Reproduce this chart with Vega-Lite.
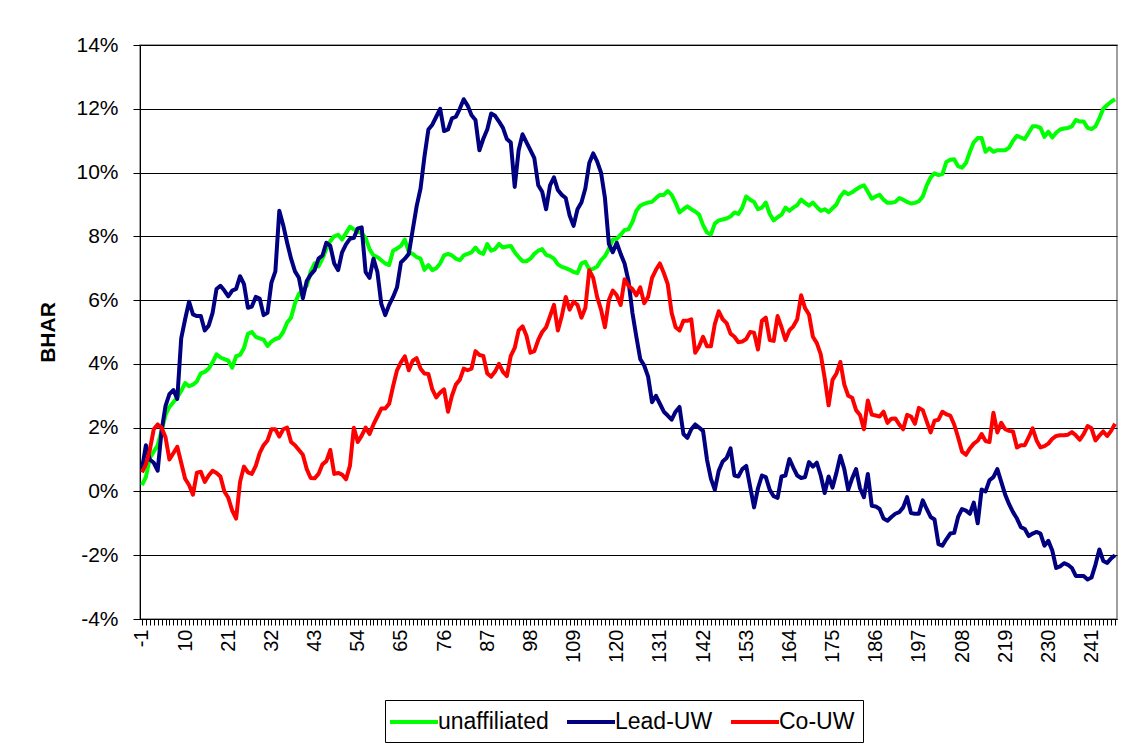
{
"$schema": "https://vega.github.io/schema/vega-lite/v6.json",
"width": 977, "height": 574,
"autosize": "none",
"padding": {"left": 140, "top": 45, "right": 8, "bottom": 130},
"background": "white",
"config": {"font": "Liberation Sans", "view": {"stroke": "#808080", "strokeWidth": 1.5}},
"data": {"values": [
{"d":-1,"unaffiliated":0.2,"Lead-UW":0.7,"Co-UW":0.6},
{"d":0,"unaffiliated":0.45,"Lead-UW":1.45,"Co-UW":0.85},
{"d":1,"unaffiliated":1.05,"Lead-UW":1.0,"Co-UW":1.3},
{"d":2,"unaffiliated":1.25,"Lead-UW":0.9,"Co-UW":1.95},
{"d":3,"unaffiliated":1.45,"Lead-UW":0.65,"Co-UW":2.1},
{"d":4,"unaffiliated":1.9,"Lead-UW":1.9,"Co-UW":2.0},
{"d":5,"unaffiliated":2.4,"Lead-UW":2.68,"Co-UW":1.7},
{"d":6,"unaffiliated":2.65,"Lead-UW":3.05,"Co-UW":1.0},
{"d":7,"unaffiliated":2.8,"Lead-UW":3.18,"Co-UW":1.2},
{"d":8,"unaffiliated":2.95,"Lead-UW":2.9,"Co-UW":1.4},
{"d":9,"unaffiliated":3.15,"Lead-UW":4.8,"Co-UW":0.9},
{"d":10,"unaffiliated":3.4,"Lead-UW":5.4,"Co-UW":0.4},
{"d":11,"unaffiliated":3.3,"Lead-UW":5.95,"Co-UW":0.2},
{"d":12,"unaffiliated":3.35,"Lead-UW":5.55,"Co-UW":-0.1},
{"d":13,"unaffiliated":3.45,"Lead-UW":5.5,"Co-UW":0.59},
{"d":14,"unaffiliated":3.7,"Lead-UW":5.5,"Co-UW":0.62},
{"d":15,"unaffiliated":3.75,"Lead-UW":5.05,"Co-UW":0.3},
{"d":16,"unaffiliated":3.85,"Lead-UW":5.2,"Co-UW":0.5},
{"d":17,"unaffiliated":4.05,"Lead-UW":5.6,"Co-UW":0.65},
{"d":18,"unaffiliated":4.3,"Lead-UW":6.35,"Co-UW":0.58},
{"d":19,"unaffiliated":4.2,"Lead-UW":6.45,"Co-UW":0.47},
{"d":20,"unaffiliated":4.15,"Lead-UW":6.3,"Co-UW":0.0},
{"d":21,"unaffiliated":4.1,"Lead-UW":6.12,"Co-UW":-0.2},
{"d":22,"unaffiliated":3.88,"Lead-UW":6.3,"Co-UW":-0.6},
{"d":23,"unaffiliated":4.24,"Lead-UW":6.35,"Co-UW":-0.85},
{"d":24,"unaffiliated":4.28,"Lead-UW":6.75,"Co-UW":0.3},
{"d":25,"unaffiliated":4.5,"Lead-UW":6.5,"Co-UW":0.78},
{"d":26,"unaffiliated":4.94,"Lead-UW":5.76,"Co-UW":0.6},
{"d":27,"unaffiliated":5.0,"Lead-UW":5.8,"Co-UW":0.55},
{"d":28,"unaffiliated":4.85,"Lead-UW":6.1,"Co-UW":0.8},
{"d":29,"unaffiliated":4.8,"Lead-UW":6.05,"Co-UW":1.2},
{"d":30,"unaffiliated":4.76,"Lead-UW":5.53,"Co-UW":1.45},
{"d":31,"unaffiliated":4.56,"Lead-UW":5.6,"Co-UW":1.6},
{"d":32,"unaffiliated":4.7,"Lead-UW":6.55,"Co-UW":1.95},
{"d":33,"unaffiliated":4.78,"Lead-UW":6.9,"Co-UW":1.95},
{"d":34,"unaffiliated":4.82,"Lead-UW":8.8,"Co-UW":1.72},
{"d":35,"unaffiliated":5.0,"Lead-UW":8.35,"Co-UW":1.95},
{"d":36,"unaffiliated":5.3,"Lead-UW":7.8,"Co-UW":2.0},
{"d":37,"unaffiliated":5.45,"Lead-UW":7.3,"Co-UW":1.55},
{"d":38,"unaffiliated":5.9,"Lead-UW":6.9,"Co-UW":1.45},
{"d":39,"unaffiliated":6.2,"Lead-UW":6.7,"Co-UW":1.3},
{"d":40,"unaffiliated":6.3,"Lead-UW":6.06,"Co-UW":1.15},
{"d":41,"unaffiliated":6.45,"Lead-UW":6.6,"Co-UW":0.7},
{"d":42,"unaffiliated":6.9,"Lead-UW":6.8,"Co-UW":0.42},
{"d":43,"unaffiliated":7.15,"Lead-UW":6.94,"Co-UW":0.41},
{"d":44,"unaffiliated":7.06,"Lead-UW":7.3,"Co-UW":0.55},
{"d":45,"unaffiliated":7.3,"Lead-UW":7.4,"Co-UW":0.85},
{"d":46,"unaffiliated":7.6,"Lead-UW":7.8,"Co-UW":0.95},
{"d":47,"unaffiliated":7.85,"Lead-UW":7.7,"Co-UW":1.3},
{"d":48,"unaffiliated":8.0,"Lead-UW":7.15,"Co-UW":0.55},
{"d":49,"unaffiliated":8.05,"Lead-UW":6.94,"Co-UW":0.58},
{"d":50,"unaffiliated":7.9,"Lead-UW":7.5,"Co-UW":0.53},
{"d":51,"unaffiliated":8.1,"Lead-UW":7.75,"Co-UW":0.38},
{"d":52,"unaffiliated":8.3,"Lead-UW":7.92,"Co-UW":0.8},
{"d":53,"unaffiliated":8.22,"Lead-UW":7.95,"Co-UW":2.0},
{"d":54,"unaffiliated":8.15,"Lead-UW":8.25,"Co-UW":1.55},
{"d":55,"unaffiliated":8.1,"Lead-UW":8.28,"Co-UW":1.75},
{"d":56,"unaffiliated":7.95,"Lead-UW":6.88,"Co-UW":2.0},
{"d":57,"unaffiliated":7.6,"Lead-UW":6.7,"Co-UW":1.8},
{"d":58,"unaffiliated":7.4,"Lead-UW":7.3,"Co-UW":2.1},
{"d":59,"unaffiliated":7.35,"Lead-UW":6.88,"Co-UW":2.35},
{"d":60,"unaffiliated":7.25,"Lead-UW":5.88,"Co-UW":2.6},
{"d":61,"unaffiliated":7.15,"Lead-UW":5.53,"Co-UW":2.6},
{"d":62,"unaffiliated":7.1,"Lead-UW":5.85,"Co-UW":2.75},
{"d":63,"unaffiliated":7.55,"Lead-UW":6.1,"Co-UW":3.3},
{"d":64,"unaffiliated":7.62,"Lead-UW":6.4,"Co-UW":3.8},
{"d":65,"unaffiliated":7.7,"Lead-UW":7.18,"Co-UW":4.05},
{"d":66,"unaffiliated":7.9,"Lead-UW":7.3,"Co-UW":4.24},
{"d":67,"unaffiliated":7.5,"Lead-UW":7.45,"Co-UW":3.8},
{"d":68,"unaffiliated":7.45,"Lead-UW":8.2,"Co-UW":4.1},
{"d":69,"unaffiliated":7.35,"Lead-UW":8.94,"Co-UW":4.18},
{"d":70,"unaffiliated":7.3,"Lead-UW":9.5,"Co-UW":3.85},
{"d":71,"unaffiliated":6.95,"Lead-UW":10.5,"Co-UW":3.7},
{"d":72,"unaffiliated":7.1,"Lead-UW":11.35,"Co-UW":3.68},
{"d":73,"unaffiliated":6.94,"Lead-UW":11.5,"Co-UW":3.2},
{"d":74,"unaffiliated":7.0,"Lead-UW":11.75,"Co-UW":2.95},
{"d":75,"unaffiliated":7.15,"Lead-UW":12.0,"Co-UW":3.1},
{"d":76,"unaffiliated":7.4,"Lead-UW":11.3,"Co-UW":3.2},
{"d":77,"unaffiliated":7.45,"Lead-UW":11.35,"Co-UW":2.5},
{"d":78,"unaffiliated":7.4,"Lead-UW":11.7,"Co-UW":3.0},
{"d":79,"unaffiliated":7.3,"Lead-UW":11.75,"Co-UW":3.35},
{"d":80,"unaffiliated":7.25,"Lead-UW":12.0,"Co-UW":3.5},
{"d":81,"unaffiliated":7.4,"Lead-UW":12.3,"Co-UW":3.85},
{"d":82,"unaffiliated":7.45,"Lead-UW":12.1,"Co-UW":3.8},
{"d":83,"unaffiliated":7.5,"Lead-UW":11.8,"Co-UW":3.85},
{"d":84,"unaffiliated":7.65,"Lead-UW":11.65,"Co-UW":4.4},
{"d":85,"unaffiliated":7.5,"Lead-UW":10.7,"Co-UW":4.28},
{"d":86,"unaffiliated":7.45,"Lead-UW":11.06,"Co-UW":4.25},
{"d":87,"unaffiliated":7.76,"Lead-UW":11.35,"Co-UW":3.7},
{"d":88,"unaffiliated":7.55,"Lead-UW":11.85,"Co-UW":3.6},
{"d":89,"unaffiliated":7.6,"Lead-UW":11.78,"Co-UW":3.76},
{"d":90,"unaffiliated":7.76,"Lead-UW":11.6,"Co-UW":4.0},
{"d":91,"unaffiliated":7.65,"Lead-UW":11.4,"Co-UW":3.75},
{"d":92,"unaffiliated":7.68,"Lead-UW":11.05,"Co-UW":3.62},
{"d":93,"unaffiliated":7.7,"Lead-UW":10.94,"Co-UW":4.25},
{"d":94,"unaffiliated":7.5,"Lead-UW":9.55,"Co-UW":4.5},
{"d":95,"unaffiliated":7.35,"Lead-UW":10.7,"Co-UW":5.05},
{"d":96,"unaffiliated":7.22,"Lead-UW":11.2,"Co-UW":5.18},
{"d":97,"unaffiliated":7.22,"Lead-UW":10.95,"Co-UW":4.88},
{"d":98,"unaffiliated":7.3,"Lead-UW":10.7,"Co-UW":4.35},
{"d":99,"unaffiliated":7.45,"Lead-UW":10.45,"Co-UW":4.4},
{"d":100,"unaffiliated":7.55,"Lead-UW":9.6,"Co-UW":4.75},
{"d":101,"unaffiliated":7.6,"Lead-UW":9.4,"Co-UW":5.0},
{"d":102,"unaffiliated":7.42,"Lead-UW":8.85,"Co-UW":5.15},
{"d":103,"unaffiliated":7.38,"Lead-UW":9.6,"Co-UW":5.5},
{"d":104,"unaffiliated":7.3,"Lead-UW":9.85,"Co-UW":5.85},
{"d":105,"unaffiliated":7.12,"Lead-UW":9.45,"Co-UW":5.05},
{"d":106,"unaffiliated":7.04,"Lead-UW":9.3,"Co-UW":5.5},
{"d":107,"unaffiliated":7.0,"Lead-UW":9.2,"Co-UW":6.1},
{"d":108,"unaffiliated":6.95,"Lead-UW":8.65,"Co-UW":5.7},
{"d":109,"unaffiliated":6.88,"Lead-UW":8.33,"Co-UW":5.95},
{"d":110,"unaffiliated":6.85,"Lead-UW":8.85,"Co-UW":5.85},
{"d":111,"unaffiliated":7.15,"Lead-UW":9.06,"Co-UW":5.45},
{"d":112,"unaffiliated":7.2,"Lead-UW":9.5,"Co-UW":5.75},
{"d":113,"unaffiliated":6.96,"Lead-UW":10.3,"Co-UW":6.94},
{"d":114,"unaffiliated":6.98,"Lead-UW":10.6,"Co-UW":6.7},
{"d":115,"unaffiliated":7.05,"Lead-UW":10.35,"Co-UW":6.1},
{"d":116,"unaffiliated":7.25,"Lead-UW":10.0,"Co-UW":5.7},
{"d":117,"unaffiliated":7.38,"Lead-UW":9.2,"Co-UW":5.15},
{"d":118,"unaffiliated":7.6,"Lead-UW":7.76,"Co-UW":6.0},
{"d":119,"unaffiliated":7.9,"Lead-UW":7.5,"Co-UW":6.3},
{"d":120,"unaffiliated":7.92,"Lead-UW":7.8,"Co-UW":6.15},
{"d":121,"unaffiliated":8.05,"Lead-UW":7.45,"Co-UW":5.85},
{"d":122,"unaffiliated":8.2,"Lead-UW":7.15,"Co-UW":6.65},
{"d":123,"unaffiliated":8.22,"Lead-UW":6.6,"Co-UW":6.45},
{"d":124,"unaffiliated":8.45,"Lead-UW":5.6,"Co-UW":6.35},
{"d":125,"unaffiliated":8.8,"Lead-UW":4.85,"Co-UW":6.15},
{"d":126,"unaffiliated":8.96,"Lead-UW":4.15,"Co-UW":6.4},
{"d":127,"unaffiliated":9.02,"Lead-UW":3.95,"Co-UW":5.9},
{"d":128,"unaffiliated":9.06,"Lead-UW":3.6,"Co-UW":6.1},
{"d":129,"unaffiliated":9.08,"Lead-UW":2.8,"Co-UW":6.7},
{"d":130,"unaffiliated":9.2,"Lead-UW":3.0,"Co-UW":6.95},
{"d":131,"unaffiliated":9.3,"Lead-UW":2.75,"Co-UW":7.15},
{"d":132,"unaffiliated":9.3,"Lead-UW":2.5,"Co-UW":6.85},
{"d":133,"unaffiliated":9.42,"Lead-UW":2.38,"Co-UW":6.5},
{"d":134,"unaffiliated":9.3,"Lead-UW":2.25,"Co-UW":5.6},
{"d":135,"unaffiliated":9.05,"Lead-UW":2.5,"Co-UW":5.15},
{"d":136,"unaffiliated":8.75,"Lead-UW":2.65,"Co-UW":5.05},
{"d":137,"unaffiliated":8.85,"Lead-UW":1.8,"Co-UW":5.35},
{"d":138,"unaffiliated":8.94,"Lead-UW":1.68,"Co-UW":5.35},
{"d":139,"unaffiliated":8.85,"Lead-UW":1.95,"Co-UW":5.4},
{"d":140,"unaffiliated":8.78,"Lead-UW":2.1,"Co-UW":4.35},
{"d":141,"unaffiliated":8.68,"Lead-UW":2.0,"Co-UW":4.55},
{"d":142,"unaffiliated":8.35,"Lead-UW":1.9,"Co-UW":4.85},
{"d":143,"unaffiliated":8.12,"Lead-UW":1.0,"Co-UW":4.55},
{"d":144,"unaffiliated":8.06,"Lead-UW":0.4,"Co-UW":4.55},
{"d":145,"unaffiliated":8.4,"Lead-UW":0.05,"Co-UW":5.25},
{"d":146,"unaffiliated":8.5,"Lead-UW":0.65,"Co-UW":5.65},
{"d":147,"unaffiliated":8.53,"Lead-UW":0.94,"Co-UW":5.4},
{"d":148,"unaffiliated":8.56,"Lead-UW":1.05,"Co-UW":5.28},
{"d":149,"unaffiliated":8.62,"Lead-UW":1.35,"Co-UW":4.95},
{"d":150,"unaffiliated":8.75,"Lead-UW":0.5,"Co-UW":4.85},
{"d":151,"unaffiliated":8.7,"Lead-UW":0.47,"Co-UW":4.68},
{"d":152,"unaffiliated":8.9,"Lead-UW":0.7,"Co-UW":4.7},
{"d":153,"unaffiliated":9.25,"Lead-UW":0.8,"Co-UW":4.78},
{"d":154,"unaffiliated":9.15,"Lead-UW":0.15,"Co-UW":5.0},
{"d":155,"unaffiliated":9.08,"Lead-UW":-0.5,"Co-UW":4.98},
{"d":156,"unaffiliated":8.85,"Lead-UW":0.1,"Co-UW":4.45},
{"d":157,"unaffiliated":8.9,"Lead-UW":0.5,"Co-UW":5.35},
{"d":158,"unaffiliated":9.06,"Lead-UW":0.45,"Co-UW":5.45},
{"d":159,"unaffiliated":8.7,"Lead-UW":0.05,"Co-UW":4.75},
{"d":160,"unaffiliated":8.5,"Lead-UW":-0.15,"Co-UW":4.72},
{"d":161,"unaffiliated":8.6,"Lead-UW":-0.2,"Co-UW":5.5},
{"d":162,"unaffiliated":8.68,"Lead-UW":0.47,"Co-UW":5.15},
{"d":163,"unaffiliated":8.9,"Lead-UW":0.5,"Co-UW":4.75},
{"d":164,"unaffiliated":8.8,"Lead-UW":1.02,"Co-UW":5.05},
{"d":165,"unaffiliated":8.9,"Lead-UW":0.75,"Co-UW":5.18},
{"d":166,"unaffiliated":8.98,"Lead-UW":0.5,"Co-UW":5.4},
{"d":167,"unaffiliated":9.15,"Lead-UW":0.42,"Co-UW":6.15},
{"d":168,"unaffiliated":9.05,"Lead-UW":0.45,"Co-UW":5.75},
{"d":169,"unaffiliated":8.96,"Lead-UW":0.92,"Co-UW":5.55},
{"d":170,"unaffiliated":9.06,"Lead-UW":0.78,"Co-UW":4.85},
{"d":171,"unaffiliated":8.92,"Lead-UW":0.9,"Co-UW":4.65},
{"d":172,"unaffiliated":8.8,"Lead-UW":0.5,"Co-UW":4.3},
{"d":173,"unaffiliated":8.85,"Lead-UW":-0.05,"Co-UW":3.55},
{"d":174,"unaffiliated":8.76,"Lead-UW":0.47,"Co-UW":2.7},
{"d":175,"unaffiliated":8.88,"Lead-UW":0.12,"Co-UW":3.5},
{"d":176,"unaffiliated":9.0,"Lead-UW":0.59,"Co-UW":3.7},
{"d":177,"unaffiliated":9.25,"Lead-UW":1.12,"Co-UW":4.06},
{"d":178,"unaffiliated":9.4,"Lead-UW":0.7,"Co-UW":3.35},
{"d":179,"unaffiliated":9.32,"Lead-UW":0.05,"Co-UW":3.0},
{"d":180,"unaffiliated":9.38,"Lead-UW":0.41,"Co-UW":2.94},
{"d":181,"unaffiliated":9.47,"Lead-UW":0.7,"Co-UW":2.55},
{"d":182,"unaffiliated":9.55,"Lead-UW":0.1,"Co-UW":2.4},
{"d":183,"unaffiliated":9.6,"Lead-UW":-0.18,"Co-UW":1.95},
{"d":184,"unaffiliated":9.4,"Lead-UW":0.55,"Co-UW":2.85},
{"d":185,"unaffiliated":9.18,"Lead-UW":-0.45,"Co-UW":2.41},
{"d":186,"unaffiliated":9.25,"Lead-UW":-0.47,"Co-UW":2.38},
{"d":187,"unaffiliated":9.3,"Lead-UW":-0.55,"Co-UW":2.35},
{"d":188,"unaffiliated":9.15,"Lead-UW":-0.85,"Co-UW":2.5},
{"d":189,"unaffiliated":9.05,"Lead-UW":-0.92,"Co-UW":2.15},
{"d":190,"unaffiliated":9.05,"Lead-UW":-0.8,"Co-UW":2.28},
{"d":191,"unaffiliated":9.08,"Lead-UW":-0.7,"Co-UW":2.29},
{"d":192,"unaffiliated":9.2,"Lead-UW":-0.65,"Co-UW":2.1},
{"d":193,"unaffiliated":9.15,"Lead-UW":-0.5,"Co-UW":1.95},
{"d":194,"unaffiliated":9.08,"Lead-UW":-0.18,"Co-UW":2.4},
{"d":195,"unaffiliated":9.03,"Lead-UW":-0.68,"Co-UW":2.35},
{"d":196,"unaffiliated":9.05,"Lead-UW":-0.7,"Co-UW":2.12},
{"d":197,"unaffiliated":9.1,"Lead-UW":-0.7,"Co-UW":2.62},
{"d":198,"unaffiliated":9.25,"Lead-UW":-0.28,"Co-UW":2.55},
{"d":199,"unaffiliated":9.6,"Lead-UW":-0.55,"Co-UW":2.2},
{"d":200,"unaffiliated":9.85,"Lead-UW":-0.8,"Co-UW":1.85},
{"d":201,"unaffiliated":9.98,"Lead-UW":-0.88,"Co-UW":2.22},
{"d":202,"unaffiliated":9.92,"Lead-UW":-1.65,"Co-UW":2.25},
{"d":203,"unaffiliated":9.95,"Lead-UW":-1.7,"Co-UW":2.5},
{"d":204,"unaffiliated":10.33,"Lead-UW":-1.5,"Co-UW":2.42},
{"d":205,"unaffiliated":10.4,"Lead-UW":-1.32,"Co-UW":2.38},
{"d":206,"unaffiliated":10.42,"Lead-UW":-1.3,"Co-UW":2.1},
{"d":207,"unaffiliated":10.2,"Lead-UW":-0.8,"Co-UW":1.7},
{"d":208,"unaffiliated":10.15,"Lead-UW":-0.55,"Co-UW":1.25},
{"d":209,"unaffiliated":10.3,"Lead-UW":-0.6,"Co-UW":1.15},
{"d":210,"unaffiliated":10.65,"Lead-UW":-0.7,"Co-UW":1.35},
{"d":211,"unaffiliated":10.95,"Lead-UW":-0.35,"Co-UW":1.5},
{"d":212,"unaffiliated":11.08,"Lead-UW":-1.0,"Co-UW":1.59},
{"d":213,"unaffiliated":11.08,"Lead-UW":0.06,"Co-UW":1.8},
{"d":214,"unaffiliated":10.65,"Lead-UW":0.0,"Co-UW":1.58},
{"d":215,"unaffiliated":10.76,"Lead-UW":0.35,"Co-UW":1.55},
{"d":216,"unaffiliated":10.65,"Lead-UW":0.45,"Co-UW":2.47},
{"d":217,"unaffiliated":10.7,"Lead-UW":0.7,"Co-UW":1.85},
{"d":218,"unaffiliated":10.7,"Lead-UW":0.3,"Co-UW":2.15},
{"d":219,"unaffiliated":10.7,"Lead-UW":-0.1,"Co-UW":1.95},
{"d":220,"unaffiliated":10.78,"Lead-UW":-0.4,"Co-UW":1.9},
{"d":221,"unaffiliated":11.0,"Lead-UW":-0.65,"Co-UW":1.88},
{"d":222,"unaffiliated":11.15,"Lead-UW":-0.85,"Co-UW":1.38},
{"d":223,"unaffiliated":11.1,"Lead-UW":-1.12,"Co-UW":1.45},
{"d":224,"unaffiliated":11.05,"Lead-UW":-1.18,"Co-UW":1.45},
{"d":225,"unaffiliated":11.25,"Lead-UW":-1.4,"Co-UW":1.7},
{"d":226,"unaffiliated":11.45,"Lead-UW":-1.32,"Co-UW":1.98},
{"d":227,"unaffiliated":11.45,"Lead-UW":-1.27,"Co-UW":1.6},
{"d":228,"unaffiliated":11.4,"Lead-UW":-1.32,"Co-UW":1.38},
{"d":229,"unaffiliated":11.12,"Lead-UW":-1.7,"Co-UW":1.42},
{"d":230,"unaffiliated":11.28,"Lead-UW":-1.55,"Co-UW":1.5},
{"d":231,"unaffiliated":11.1,"Lead-UW":-1.85,"Co-UW":1.65},
{"d":232,"unaffiliated":11.25,"Lead-UW":-2.4,"Co-UW":1.74},
{"d":233,"unaffiliated":11.35,"Lead-UW":-2.35,"Co-UW":1.76},
{"d":234,"unaffiliated":11.38,"Lead-UW":-2.25,"Co-UW":1.76},
{"d":235,"unaffiliated":11.4,"Lead-UW":-2.3,"Co-UW":1.78},
{"d":236,"unaffiliated":11.45,"Lead-UW":-2.4,"Co-UW":1.86},
{"d":237,"unaffiliated":11.65,"Lead-UW":-2.65,"Co-UW":1.76},
{"d":238,"unaffiliated":11.6,"Lead-UW":-2.65,"Co-UW":1.62},
{"d":239,"unaffiliated":11.6,"Lead-UW":-2.65,"Co-UW":1.8},
{"d":240,"unaffiliated":11.4,"Lead-UW":-2.76,"Co-UW":2.05},
{"d":241,"unaffiliated":11.36,"Lead-UW":-2.7,"Co-UW":1.98},
{"d":242,"unaffiliated":11.45,"Lead-UW":-2.3,"Co-UW":1.6},
{"d":243,"unaffiliated":11.7,"Lead-UW":-1.82,"Co-UW":1.75},
{"d":244,"unaffiliated":12.0,"Lead-UW":-2.18,"Co-UW":1.88},
{"d":245,"unaffiliated":12.12,"Lead-UW":-2.24,"Co-UW":1.74},
{"d":246,"unaffiliated":12.22,"Lead-UW":-2.1,"Co-UW":1.9},
{"d":247,"unaffiliated":12.3,"Lead-UW":-2.0,"Co-UW":2.12}
]},
"transform": [{"fold": ["unaffiliated", "Lead-UW", "Co-UW"], "as": ["series", "v"]}],
"mark": {"type": "line", "strokeWidth": 4, "strokeJoin": "round"},
"encoding": {
  "x": {"field": "d", "type": "ordinal", "scale": {"type": "point", "padding": 0.5},
    "axis": {"title": null, "labelAngle": -90, "labelExpr": "(datum.value + 1) % 11 == 0 ? datum.label : ''", "labelOverlap": false, "labelFontSize": 20, "labelColor": "black", "labelPadding": 4, "tickSize": 6, "tickColor": "black", "domainColor": "black", "grid": false}},
  "y": {"field": "v", "type": "quantitative", "scale": {"domain": [-4, 14], "nice": false, "zero": false},
    "axis": {"title": "BHAR", "values": [-4, -2, 0, 2, 4, 6, 8, 10, 12, 14], "labelExpr": "datum.value + '%'", "labelFontSize": 21, "labelColor": "black", "labelPadding": 15, "tickSize": 7, "tickColor": "black", "domainColor": "black", "gridColor": "black", "gridOpacity": 1, "titleFontSize": 21, "titleFontWeight": "bold", "titleColor": "black", "titlePadding": 17}},
  "color": {"field": "series", "type": "nominal", "sort": ["unaffiliated", "Lead-UW", "Co-UW"],
    "scale": {"domain": ["unaffiliated", "Lead-UW", "Co-UW"], "range": ["#00FF00", "#000080", "#FF0000"]},
    "legend": {"orient": "none", "legendX": 245, "legendY": 655, "direction": "horizontal", "title": null, "strokeColor": "black", "fillColor": "white", "padding": 8, "symbolType": "M-2,0H2", "symbolSize": 576, "symbolStrokeWidth": 4, "symbolOffset": 7, "labelOffset": 10, "labelFontSize": 23, "labelColor": "black", "columnPadding": 10, "labelLimit": 0}}
}
}
